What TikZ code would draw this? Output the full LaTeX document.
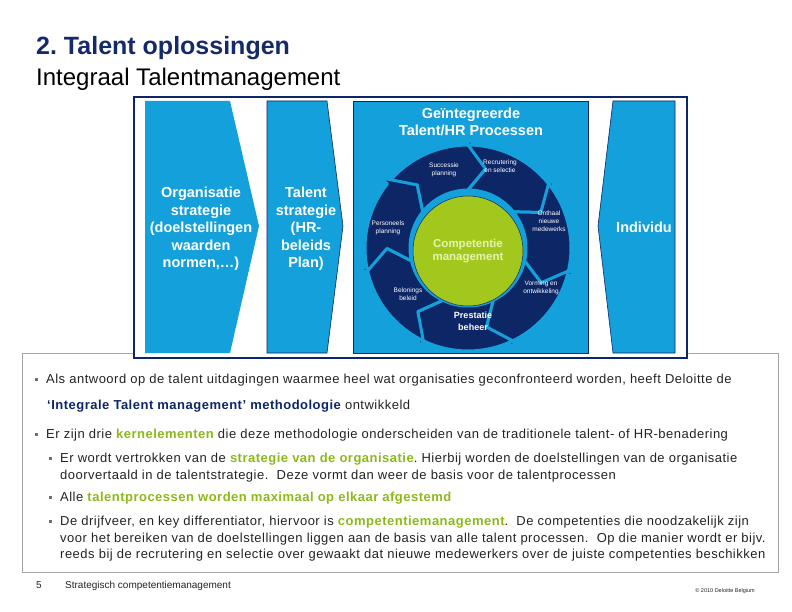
\documentclass[tikz,border=0pt]{standalone}
\usepackage{fontspec}
\setmainfont{Liberation Sans}
\usepackage{xcolor}
\definecolor{tmblue}{RGB}{20,160,218}
\definecolor{tmnavy}{RGB}{13,38,102}
\definecolor{tmgreen}{RGB}{162,200,30}
\definecolor{tmlime}{RGB}{140,185,25}
\definecolor{tmpale}{RGB}{230,244,175}
\definecolor{tmtitle}{RGB}{20,42,105}
\definecolor{tmgray}{RGB}{165,165,165}
\definecolor{tmtext}{RGB}{35,35,35}
\definecolor{tmbullet}{RGB}{110,110,110}
\newfontfamily\bodyfamily[LetterSpace=3.8]{Liberation Sans}
\newcommand{\bodyfont}{\bodyfamily\fontsize{13}{15}\selectfont}
\newcommand{\tmhl}[1]{{\bfseries\color{tmlime}#1}}
\frenchspacing

\begin{document}
\begin{tikzpicture}[x=1pt, y=-1pt,
  panel/.style={font=\fontsize{14.5}{17.5}\selectfont\bfseries, text=white, align=center, inner sep=0},
  seglbl/.style={font=\fontsize{6.5}{7.8}\selectfont, text=white, align=center, inner sep=0},
  txt/.style={anchor=base west, inner sep=0, font=\bodyfont, text=tmtext},
  sq/.style={fill=tmbullet, minimum size=3pt, inner sep=0}]
  \useasboundingbox (0,0) rectangle (792,612);

  % Title
  \node[anchor=base west, inner sep=0, font=\fontsize{25}{29}\selectfont\bfseries, text=tmtitle] (title) at (36,55) {2. Talent oplossingen};
  \node[anchor=base west, inner sep=0, font=\fontsize{24}{28}\selectfont, text=black] (subtitle) at (36,86) {Integraal Talentmanagement};

  % Text box and picture frame
  \draw[tmgray, line width=0.8] (22,353) rectangle (778,572);
  \draw[tmnavy, line width=1.5, fill=white] (134,97) rectangle (687,358);

  % Panels
  \fill[tmblue] (145,101) -- (230,101) -- (259,226) -- (230,353) -- (145,353) -- cycle;
  \filldraw[fill=tmblue, draw=tmnavy, line width=0.6] (267,101) -- (327,101) -- (343,226) -- (327,353) -- (267,353) -- cycle;
  \filldraw[fill=tmblue, draw=tmnavy, line width=0.6] (353,101) rectangle (588,353);
  \filldraw[fill=tmblue, draw=tmnavy, line width=0.6] (613,101) -- (675,101) -- (675,353) -- (613,353) -- (598,226) -- cycle;

  \node[panel] (org) at (201,229) {Organisatie\\strategie\\(doelstellingen\\waarden\\normen,\dots)};
  \node[panel] (strat) at (306,229) {Talent\\strategie\\(HR-\\beleids\\Plan)};
  \node[panel] (proc) at (471,122) {Geïntegreerde\\Talent/HR Processen};
  \node[panel] (indiv) at (644,227) {Individu};

  % Process ring
  \begin{scope}[shift={(468,248)}]
    \foreach \a in {-141.43,-90,-38.57,12.86,64.29,115.71,167.14}
      \filldraw[fill=tmnavy, draw=tmblue, line width=3, line join=round] (\a:103) arc[start angle=\a, end angle=\a+51.43, radius=103] -- (\a+51.43:113) -- (\a+64:81) -- (\a+51.43:58) arc[start angle=\a+51.43, end angle=\a, radius=58] -- (\a+12.57:81) -- cycle;
  \end{scope}
  \node[circle, fill=tmgreen, draw=tmnavy, line width=0.5, minimum size=110pt, inner sep=0, font=\fontsize{11.5}{13.5}\selectfont\bfseries, text=tmpale, align=center] (comp) at (468,251) {Competentie\\management};

  \node[seglbl] (succ) at (444,170) {Successie\\planning};
  \node[seglbl] (recr) at (500,166) {Recrutering\\en selectie};
  \node[seglbl] (onth) at (549,221) {Onthaal\\nieuwe\\medewerks};
  \node[seglbl] (vorm) at (541,288) {Vorming en\\ontwikkeling};
  \node[seglbl, font=\fontsize{9}{12}\selectfont\bfseries] (prest) at (473,321) {Prestatie\\beheer};
  \node[seglbl] (belo) at (408,294) {Belonings\\beleid};
  \node[seglbl] (pers) at (388,228) {Personeels\\planning};

  % Bullets
  \node[sq] (b1) at (36,379) {};
  \node[txt] (l1) at (46,383) {Als antwoord op de talent uitdagingen waarmee heel wat organisaties geconfronteerd worden, heeft Deloitte de};
  \node[txt] (l2) at (47,409) {{\bfseries\color{tmnavy}‘Integrale Talent management’ methodologie} ontwikkeld};
  \node[sq] (b2) at (36,434) {};
  \node[txt] (l3) at (46,438) {Er zijn drie \tmhl{kernelementen} die deze methodologie onderscheiden van de traditionele talent- of HR-benadering};
  \node[sq] (b3) at (50,458) {};
  \node[txt] (l4) at (60,462) {Er wordt vertrokken van de \tmhl{strategie van de organisatie}. Hierbij worden de doelstellingen van de organisatie};
  \node[txt] (l5) at (60,479) {doorvertaald in de talentstrategie.\ \ Deze vormt dan weer de basis voor de talentprocessen};
  \node[sq] (b4) at (50,497) {};
  \node[txt] (l6) at (60,501) {Alle \tmhl{talentprocessen worden maximaal op elkaar afgestemd}};
  \node[sq] (b5) at (50,521) {};
  \node[txt] (l7) at (60,525) {De drijfveer, en key differentiator, hiervoor is \tmhl{competentiemanagement}.\ \ De competenties die noodzakelijk zijn};
  \node[txt] (l8) at (60,542) {voor het bereiken van de doelstellingen liggen aan de basis van alle talent processen.\ \ Op die manier wordt er bijv.};
  \node[txt] (l9) at (60,558) {reeds bij de recrutering en selectie over gewaakt dat nieuwe medewerkers over de juiste competenties beschikken};

  % Footer
  \node[anchor=base west, inner sep=0, font=\fontsize{10}{12}\selectfont, text=tmtext] (page) at (36,588) {5};
  \node[anchor=base west, inner sep=0, font=\fontsize{10}{12}\selectfont, text=tmtext] (foot) at (65,588) {Strategisch competentiemanagement};
  \node[anchor=base east, inner sep=0, font=\fontsize{5.5}{7}\selectfont, text=tmtext] (copy) at (755,592) {© 2010 Deloitte Belgium};
\end{tikzpicture}
\end{document}
